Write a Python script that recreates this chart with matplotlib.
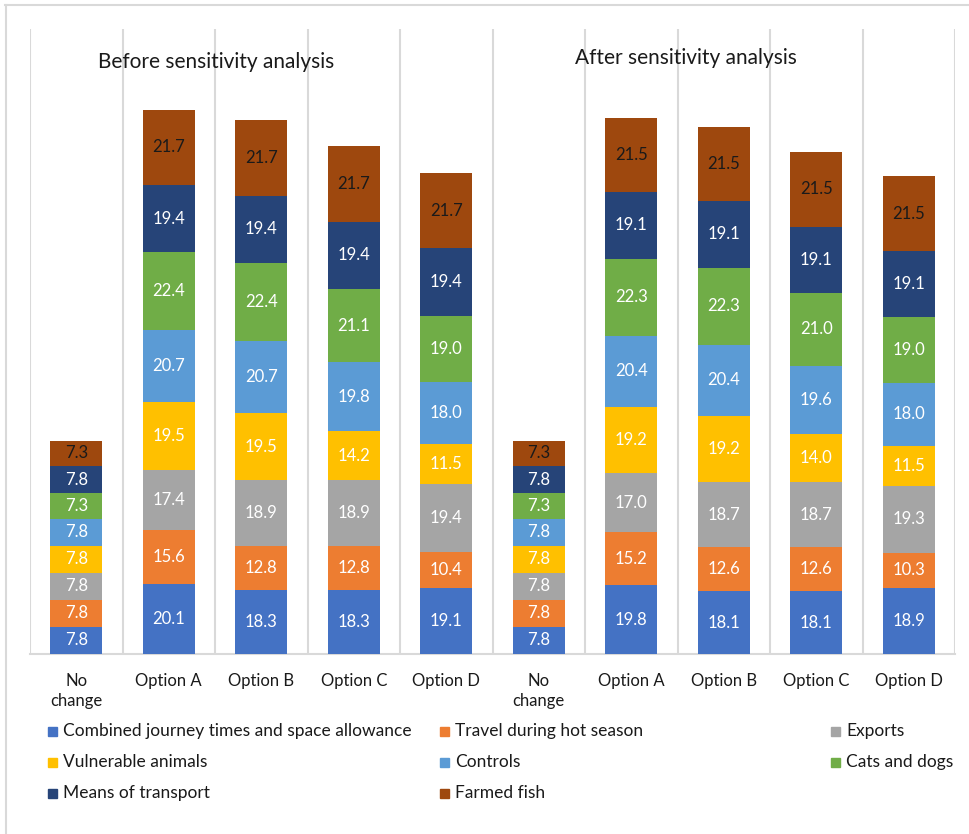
import matplotlib
matplotlib.use("Agg")
import matplotlib.pyplot as plt
from matplotlib.lines import Line2D
from matplotlib.patches import Rectangle
import numpy as np

plt.rcParams['font.family'] = ['Lato', 'DejaVu Sans']

# Bars: first five before the sensitivity analysis, last five after
categories = ['No\nchange', 'Option A', 'Option B', 'Option C', 'Option D'] * 2

journey = [7.8, 20.1, 18.3, 18.3, 19.1, 7.8, 19.8, 18.1, 18.1, 18.9]
hot_season = [7.8, 15.6, 12.8, 12.8, 10.4, 7.8, 15.2, 12.6, 12.6, 10.3]
exports = [7.8, 17.4, 18.9, 18.9, 19.4, 7.8, 17.0, 18.7, 18.7, 19.3]
vulnerable = [7.8, 19.5, 19.5, 14.2, 11.5, 7.8, 19.2, 19.2, 14.0, 11.5]
controls = [7.8, 20.7, 20.7, 19.8, 18.0, 7.8, 20.4, 20.4, 19.6, 18.0]
cats_dogs = [7.3, 22.4, 22.4, 21.1, 19.0, 7.3, 22.3, 22.3, 21.0, 19.0]
transport = [7.8, 19.4, 19.4, 19.4, 19.4, 7.8, 19.1, 19.1, 19.1, 19.1]
farmed_fish = [7.3, 21.7, 21.7, 21.7, 21.7, 7.3, 21.5, 21.5, 21.5, 21.5]

series = [journey, hot_season, exports, vulnerable, controls, cats_dogs, transport, farmed_fish]
series_names = ['Combined journey times and space allowance', 'Travel during hot season', 'Exports',
                'Vulnerable animals', 'Controls', 'Cats and dogs',
                'Means of transport', 'Farmed fish']
colors = ['#4472C4', '#ED7D31', '#A5A5A5', '#FFC000', '#5B9BD5', '#70AD47', '#264478', '#9E480E']
label_colors = ['white'] * 7 + ['#1a1a1a']

W, H = 970, 834
fig = plt.figure(figsize=(W / 100, H / 100), dpi=100)
ax = fig.add_axes([30 / W, 1 - 654 / H, 925 / W, 625 / H])

x = np.arange(len(categories))
bottom = np.zeros(len(categories))
for vals, name, col, lc in zip(series, series_names, colors, label_colors):
    bars = ax.bar(x, vals, width=0.56, bottom=bottom, color=col, label=name, zorder=3)
    ax.bar_label(bars, fmt='%.1f', label_type='center', color=lc, fontsize=12)
    bottom += np.array(vals)

ax.set_xlim(-0.5, len(categories) - 0.5)
ax.set_ylim(0, 180)
ax.set_yticks([])
ax.set_xticks(x)
ax.set_xticklabels(categories, fontsize=12, color='#1a1a1a', linespacing=1.25)
ax.tick_params(axis='x', length=0, pad=14)

# light separators between the bars
for b in np.arange(-0.5, len(categories), 1.0):
    ax.axvline(b, color='#d9d9d9', lw=1.5, zorder=1)
for side in ['top', 'left', 'right']:
    ax.spines[side].set_visible(False)
ax.spines['bottom'].set_color('#d9d9d9')
ax.spines['bottom'].set_linewidth(1.5)

fig.text(216 / W, 1 - 62 / H, 'Before sensitivity analysis', ha='center', va='center',
         fontsize=15, color='#1a1a1a')
fig.text(686 / W, 1 - 58 / H, 'After sensitivity analysis', ha='center', va='center',
         fontsize=15, color='#1a1a1a')

# legend laid out row by row in three fixed columns
col_x = [48, 440, 831]
row_y = [731, 762, 793]
sq = 9
for i, (name, col) in enumerate(zip(series_names, colors)):
    r, c = divmod(i, 3)
    fig.patches.append(Rectangle(((col_x[c]) / W, 1 - (row_y[r] + sq / 2) / H), sq / W, sq / H,
                                 transform=fig.transFigure, color=col))
    fig.text((col_x[c] + sq + 6) / W, 1 - row_y[r] / H, name, ha='left', va='center',
             fontsize=12.5, color='#1a1a1a')

# outer frame edges
fig.add_artist(Line2D([5 / W, 1], [1 - 5 / H] * 2, transform=fig.transFigure, color='#d9d9d9', lw=1.5))
fig.add_artist(Line2D([6 / W] * 2, [0, 1 - 5 / H], transform=fig.transFigure, color='#d9d9d9', lw=1.5))

fig.savefig('out.png', dpi=100)
